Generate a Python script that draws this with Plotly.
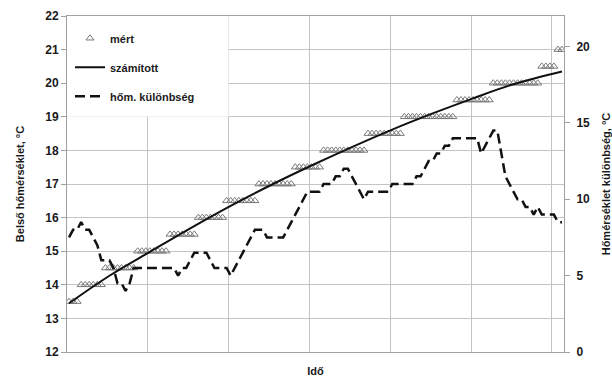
import numpy as np
import plotly.graph_objects as go

# Measured indoor temperature: plateau levels (°C) and how many samples sit on each
meas_levels = [13.5, 14.0, 14.5, 15.0, 15.5, 16.0, 16.5, 17.0,
               17.5, 18.0, 18.5, 19.0, 19.5, 20.0, 20.5, 21.0]
meas_counts = [3, 6, 8, 8, 7, 7, 8, 9, 7, 11, 9, 13, 9, 12, 4, 2]

# Calculated indoor temperature at selected sample indices
calc_idx = [0, 10, 20, 30, 40, 50, 60, 70, 80, 90, 100, 110, 122]
calc_vals = [13.45, 14.27, 14.98, 15.68, 16.35, 16.97, 17.55, 18.10,
             18.62, 19.10, 19.55, 19.97, 20.35]

# Temperature difference (°C), one value per sample
diff_vals = [
    7.5, 8.0, 8.0, 8.5, 8.0, 8.0, 7.5, 7.0, 6.0, 6.0,
    6.0, 5.5, 4.5, 4.5, 4.0, 4.5, 5.5, 5.5, 5.5, 5.5,
    5.5, 5.5, 5.5, 5.5, 5.5, 5.5, 5.5, 5.0, 5.5, 5.5,
    6.0, 6.5, 6.5, 6.5, 6.5, 6.0, 5.5, 5.5, 5.5, 5.5,
    5.0, 5.5, 6.0, 6.5, 7.0, 7.5, 8.0, 8.0, 8.0, 7.5,
    7.5, 7.5, 7.5, 7.5, 8.0, 8.5, 9.0, 9.5, 10.0, 10.5,
    10.5, 10.5, 10.5, 11.0, 11.0, 11.0, 11.5, 11.5, 12.0, 12.0,
    11.5, 11.0, 10.5, 10.0, 10.5, 10.5, 10.5, 10.5, 10.5, 10.5,
    11.0, 11.0, 11.0, 11.0, 11.0, 11.0, 11.5, 11.5, 12.0, 12.5,
    12.5, 13.0, 13.0, 13.5, 13.5, 14.0, 14.0, 14.0, 14.0, 14.0,
    14.0, 14.0, 13.0, 13.5, 14.0, 14.5, 14.5, 13.0, 11.5, 11.0,
    10.5, 10.0, 10.0, 9.5, 9.5, 9.0, 9.5, 9.0, 9.0, 9.0,
    9.0, 8.5, 8.5,
]

left_ticks = list(range(12, 23))
right_ticks = [0, 5, 10, 15, 20]
time_grid = [0, 20, 40, 60, 80, 100, 120]

meas_vals = np.repeat(meas_levels, meas_counts)
n = len(meas_vals)
x_pos = np.arange(n) + 0.5

FONT = "Liberation Sans"
GRID = "#c4c4c4"
AXLINE = "#a0a0a0"
INK = "#1a1a1a"

fig = go.Figure()

fig.add_trace(go.Scatter(
    x=x_pos, y=meas_vals, mode="markers", name="mért",
    marker=dict(symbol="triangle-up-open", size=7, color="#7a7a7a",
                line=dict(width=1, color="#7a7a7a")),
    legendgroup="a",
))
fig.add_trace(go.Scatter(
    x=np.array(calc_idx) + 0.5, y=calc_vals, mode="lines", name="számított",
    line=dict(color="#111111", width=2, shape="spline"),
    legendgroup="b",
))
fig.add_trace(go.Scatter(
    x=x_pos, y=diff_vals, mode="lines", name="hőm. különbség",
    line=dict(color="#111111", width=2.5, dash="10px,5px"),
    yaxis="y2", legendgroup="c",
))

# white backing behind the legend, hiding the grid there
fig.add_shape(type="rect", xref="x", yref="y", x0=0, x1=40, y0=19, y1=22,
              fillcolor="white", line=dict(width=0), layer="between")

fig.update_layout(
    width=612, height=378,
    margin=dict(l=67, r=48, t=16, b=26, autoexpand=False),
    paper_bgcolor="white", plot_bgcolor="white",
    font=dict(family=FONT, size=11, color=INK),
    showlegend=True,
    legend=dict(
        x=0.006, y=0.977, xanchor="left", yanchor="top",
        bgcolor="rgba(0,0,0,0)", borderwidth=0,
        font=dict(family=FONT, size=11, color=INK, weight="bold"),
        traceorder="grouped", tracegroupgap=10,
    ),
    xaxis=dict(
        range=[0, n], tickvals=time_grid, showticklabels=False,
        showgrid=True, gridcolor=GRID, gridwidth=1,
        showline=True, linecolor=AXLINE, linewidth=1, mirror=True,
        ticks="", zeroline=False, automargin=False,
        title=dict(text="Idő", standoff=15,
                   font=dict(family=FONT, size=11, color=INK, weight="bold")),
    ),
    yaxis=dict(
        range=[12, 22], tickvals=left_ticks,
        showgrid=True, gridcolor=GRID, gridwidth=1,
        showline=True, linecolor=AXLINE, linewidth=1, mirror=True,
        ticks="outside", ticklen=5, tickcolor=AXLINE,
        tickfont=dict(family=FONT, size=12, color=INK, weight="bold"),
        zeroline=False, automargin=False,
        title=dict(text="Belső hőmérséklet, °C", standoff=18,
                   font=dict(family=FONT, size=11, color=INK, weight="bold")),
    ),
    yaxis2=dict(
        range=[0, 22], tickvals=right_ticks, overlaying="y", side="right",
        showgrid=False, showline=False,
        ticks="outside", ticklen=5, tickcolor=AXLINE,
        ticklabelstandoff=4,
        tickfont=dict(family=FONT, size=12, color=INK, weight="bold"),
        zeroline=False, automargin=False,
        title=dict(text="Hőmérséklet különbség, °C", standoff=18,
                   font=dict(family=FONT, size=11, color=INK, weight="bold")),
    ),
)

fig.write_html("out.html")
